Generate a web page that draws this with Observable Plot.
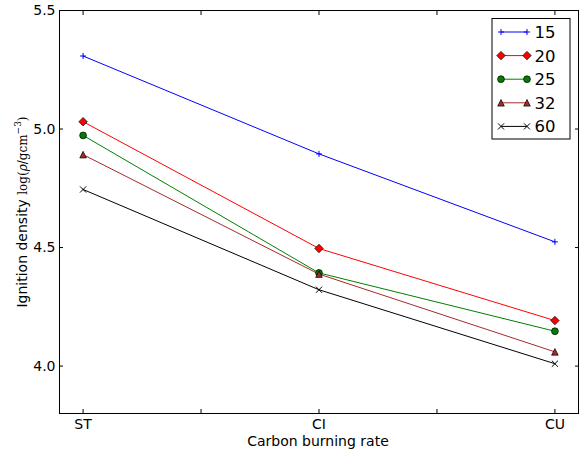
<!DOCTYPE html>
<html><head><meta charset="utf-8">
<script src="https://cdn.jsdelivr.net/npm/d3@7"></script>
<script src="https://cdn.jsdelivr.net/npm/@observablehq/plot@0.6"></script>
<style>body{margin:0;background:#fff} svg{display:block}</style>
</head><body><div id="chart"></div>
<script>
const rates = ["ST", "CI", "CU"];
const masses = ["15", "20", "25", "32", "60"];
const s15 = [5.308, 4.895, 4.524];
const s20 = [5.031, 4.496, 4.192];
const s25 = [4.973, 4.393, 4.147];
const s32 = [4.892, 4.388, 4.060];
const s60 = [4.745, 4.322, 4.010];
const yTicks = [4.0, 4.5, 5.0, 5.5];
const xTicks = [0, 0.5, 1, 1.5, 2];
const xLabel = "Carbon burning rate";
const yLabel = "Ignition density ";

const seriesVals = [s15, s20, s25, s32, s60];
const colors = ["#0000ff", "#ff0000", "#008000", "#a52a2a", "#000000"];

const mplTriangle = {draw(ctx, size) {const h = Math.sqrt(size / Math.PI); ctx.moveTo(0, -h); ctx.lineTo(h, h); ctx.lineTo(-h, h); ctx.closePath();}};
const symbols = ["plus", "diamond2", "circle", mplTriangle, "times"];
const radii = [2.1, 3.8, 3.4, 3.3, 2.9];
const filled = [false, true, true, true, false];

const rows = [];
masses.forEach((m, i) => seriesVals[i].forEach((v, j) => rows.push({x: j, y: v, mass: m})));

const marks = [
  Plot.frame({stroke: "black", strokeWidth: 1}),
  Plot.axisX({ticks: xTicks, tickSize: -4, tickPadding: 10, tickFormat: d => Number.isInteger(d) ? rates[d] : "", fontSize: 14, label: null}),
  Plot.axisX({anchor: "top", ticks: xTicks, tickSize: -4, tickFormat: () => "", label: null}),
  Plot.axisY({ticks: yTicks, tickSize: -4, tickPadding: 8, tickFormat: d3.format(".1f"), fontSize: 14, label: null}),
  Plot.axisY({anchor: "right", ticks: yTicks, tickSize: -4, tickFormat: () => "", label: null})
];
masses.forEach((m, i) => {
  const d = rows.filter(r => r.mass === m);
  marks.push(Plot.line(d, {x: "x", y: "y", stroke: colors[i], strokeWidth: 1}));
});
masses.forEach((m, i) => {
  const d = rows.filter(r => r.mass === m);
  marks.push(Plot.dot(d, {x: "x", y: "y", symbol: () => symbols[i], r: radii[i],
    fill: filled[i] ? colors[i] : "none", stroke: filled[i] ? "black" : colors[i],
    strokeWidth: filled[i] ? 0.7 : 1}));
});

const plot = Plot.plot({
  width: 583, height: 453,
  marginLeft: 59, marginRight: 5, marginTop: 10, marginBottom: 40,
  style: {fontFamily: "DejaVu Sans", fontSize: "14px", color: "black", background: "white"},
  x: {type: "linear", domain: [-0.1, 2.1]},
  y: {domain: [3.8, 5.5]},
  symbol: {type: "identity"},
  marks
});
document.getElementById("chart").appendChild(plot);

const svg = d3.select(plot);
// axis labels
svg.append("text").attr("x", 318).attr("y", 445.5).attr("text-anchor", "middle")
  .attr("font-family", "DejaVu Sans").attr("font-size", 14).attr("fill", "black").text(xLabel);
const yl = svg.append("text").attr("transform", "translate(27,212) rotate(-90)").attr("text-anchor", "middle")
  .attr("font-family", "DejaVu Sans").attr("font-size", 14).attr("fill", "black");
yl.append("tspan").text(yLabel);
const mt = yl.append("tspan").attr("font-family", "DejaVu Serif").attr("font-size", 12);
mt.append("tspan").text("log(");
mt.append("tspan").attr("font-style", "italic").text("ρ");
mt.append("tspan").text("/gcm");
mt.append("tspan").attr("dy", -6).attr("font-size", 9).text("−3");
mt.append("tspan").attr("dy", 6).text(")");

// legend
const lg = svg.append("g");
lg.append("rect").attr("x", 492).attr("y", 18.5).attr("width", 78).attr("height", 120.5)
  .attr("fill", "white").attr("stroke", "black").attr("stroke-width", 1);
masses.forEach((m, i) => {
  const y = 32 + i * 23.6;
  lg.append("line").attr("x1", 501).attr("x2", 527).attr("y1", y).attr("y2", y)
    .attr("stroke", colors[i]).attr("stroke-width", 1);
  const sym = typeof symbols[i] === "string"
    ? {plus: d3.symbolPlus, diamond2: d3.symbolDiamond2, circle: d3.symbolCircle, times: d3.symbolTimes}[symbols[i]]
    : symbols[i];
  const path = d3.symbol(sym, Math.PI * radii[i] * radii[i])();
  [501, 527].forEach(x => {
    lg.append("path").attr("d", path).attr("transform", `translate(${x},${y})`)
      .attr("fill", filled[i] ? colors[i] : "none").attr("stroke", filled[i] ? "black" : colors[i])
      .attr("stroke-width", filled[i] ? 0.7 : 1);
  });
  lg.append("text").attr("x", 545).attr("y", y).attr("dy", "0.36em")
    .attr("font-family", "DejaVu Sans").attr("font-size", 16.5).attr("fill", "black").text(m);
});
</script></body></html>
